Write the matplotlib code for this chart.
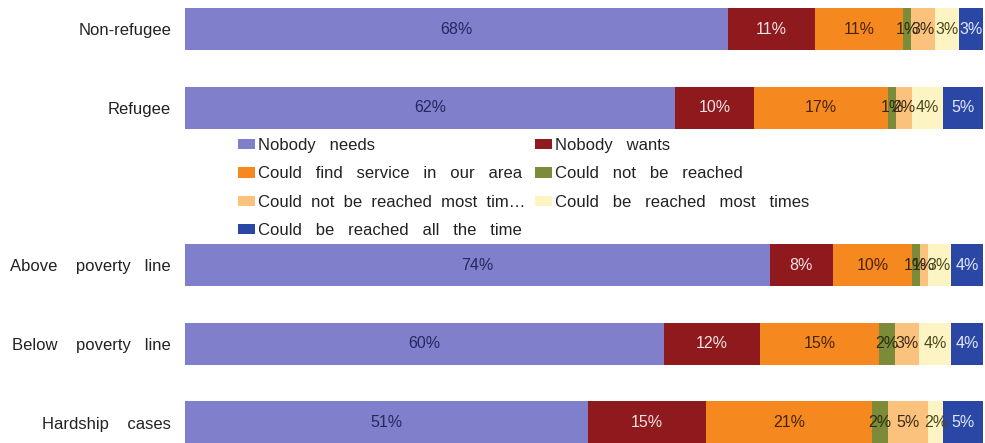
import numpy as np
import matplotlib
matplotlib.use("Agg")
from matplotlib import pyplot as plt

plt.rcParams['font.family'] = ['Liberation Sans', 'DejaVu Sans']

# Groups, top to bottom (slot 2 is left empty for the legend)
groups = ['Non-refugee', 'Refugee', 'Above    poverty   line',
          'Below    poverty   line', 'Hardship    cases']
slots = [0, 1, 3, 4, 5]

answers = ['Nobody   needs', 'Nobody   wants',
           'Could   find   service   in   our   area',
           'Could   not   be   reached',
           'Could  not  be  reached  most  tim\u2026',
           'Could   be   reached   most   times',
           'Could   be   reached   all   the   time']

# percentages per answer, one value per group
nobody_needs = [68, 62, 74, 60, 51]
nobody_wants = [11, 10, 8, 12, 15]
find_service = [11, 17, 10, 15, 21]
not_reached = [1, 1, 1, 2, 2]
not_reached_most = [3, 2, 1, 3, 5]
reached_most = [3, 4, 3, 4, 2]
reached_all = [3, 5, 4, 4, 5]

series = [nobody_needs, nobody_wants, find_service, not_reached,
          not_reached_most, reached_most, reached_all]
colors = ['#7f7fcc', '#8e1a1e', '#f5891f', '#7c8b3a',
          '#fbc27e', '#fcf4c2', '#2a47a5']
text_colors = ['#262660', '#f6e2e2', '#4a2208', '#2c2c10',
               '#3a2a10', '#4a4a1c', '#e2e8ff']

fig = plt.figure(figsize=(9.85, 4.43), dpi=100)
ax = fig.add_axes([185/985, 0, 798/985, 1])

# 100% stacked: each row is scaled to its own total
totals = np.sum(np.array(series, dtype=float), axis=0)
left = np.zeros(len(groups))
handles = []
for vals, col, tcol, lab in zip(series, colors, text_colors, answers):
    vals = np.array(vals, dtype=float)
    widths = vals / totals * 100
    bars = ax.barh(slots, widths, left=left, height=0.54, color=col,
                   edgecolor='none', label=lab)
    handles.append(bars)
    for y, l, w, v in zip(slots, left, widths, vals):
        ax.text(l + w/2, y, '%d%%' % v, ha='center', va='center',
                fontsize=11.5, color=tcol)
    left += widths

ax.set_xlim(0, 100)
ax.set_ylim(5.26, -0.37)
ax.set_yticks(slots)
ax.set_yticklabels(groups, fontsize=12, color='#222222')
ax.tick_params(axis='y', length=0, pad=10)
ax.set_xticks([])
for s in ax.spines.values():
    s.set_visible(False)

# legend filled column-first, so reorder to read row by row
order = [0, 2, 4, 6, 1, 3, 5]
fig.legend([handles[i] for i in order], [answers[i] for i in order],
           ncol=2, loc='upper left', bbox_to_anchor=(238/985, 1 - 138/443),
           frameon=False, fontsize=12, handlelength=1.0, handleheight=0.6,
           handletextpad=0.2, labelspacing=0.8, columnspacing=0.6,
           borderpad=0, borderaxespad=0, labelcolor='#222222')

fig.savefig('out.png', dpi=100)
